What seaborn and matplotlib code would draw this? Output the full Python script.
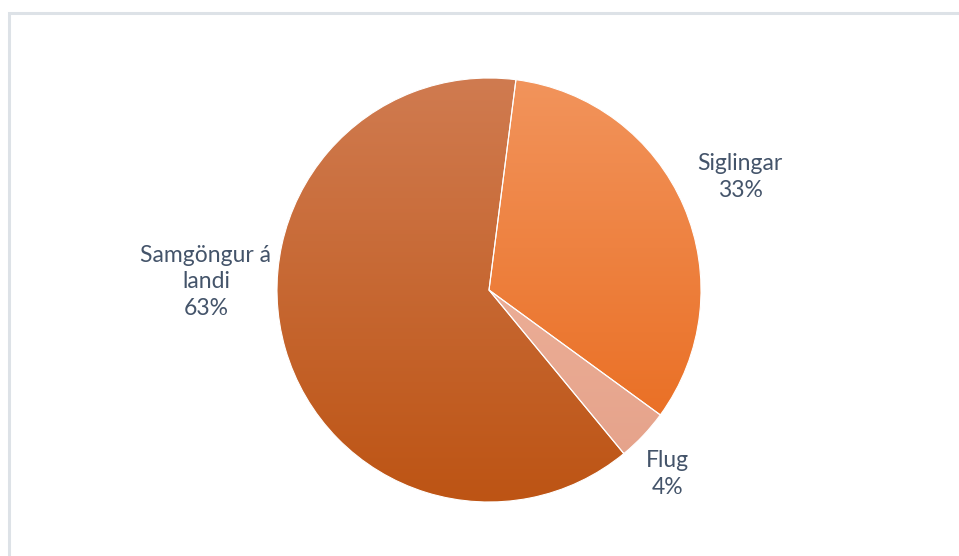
import numpy as np
import matplotlib
matplotlib.use("Agg")
import matplotlib.pyplot as plt
import seaborn as sns
from matplotlib.colors import LinearSegmentedColormap
from matplotlib.patches import Rectangle

# Share of emissions by transport mode (percent)
categories = ["Siglingar", "Flug", "Samgöngur á\nlandi"]
shares = [33, 4, 63]

# Vertical gradient (top colour, bottom colour) for each slice
gradients = [("#F2945C", "#E86718"),
             ("#F3BBA4", "#E4A088"),
             ("#D07B50", "#BD5414")]

sns.set_theme(style="white")
plt.rcParams["font.family"] = ["Lato", "DejaVu Sans"]
text_color = "#44546A"

fig = plt.figure(figsize=(9.59, 5.56), dpi=100)
fig.patch.set_facecolor("white")

# Chart-area outline
fig.patches.append(Rectangle((8.5 / 959, -0.05), 1.1, 1 + 0.05 - 13.5 / 556,
                             transform=fig.transFigure, fill=False,
                             edgecolor="#DDE2E7", linewidth=2.2, zorder=0))

cx, cy, r = 489, 290, 212
ax = fig.add_axes([(cx - r) / 959, (556 - cy - r) / 556, 2 * r / 959, 2 * r / 556])

wedges, _ = ax.pie(shares, startangle=82.7, counterclock=False, radius=1,
                   wedgeprops=dict(edgecolor="white", linewidth=0.8, facecolor="none"))
ax.set_xlim(-1, 1)
ax.set_ylim(-1, 1)
ax.set_aspect("equal")
ax.axis("off")

for w, (top, bottom) in zip(wedges, gradients):
    cmap = LinearSegmentedColormap.from_list("g", [top, bottom])
    grad = np.linspace(0, 1, 256).reshape(-1, 1)
    im = ax.imshow(grad, cmap=cmap, extent=(-1, 1, -1, 1), origin="upper",
                   aspect="auto", zorder=1, interpolation="bicubic")
    im.set_clip_path(w)
    w.set_zorder(2)
ax.set_xlim(-1, 1)
ax.set_ylim(-1, 1)

# Data labels: name and rounded percentage
label_pos = [(1.184, 0.533), (0.840, -0.868), (-1.335, 0.038)]
for name, val, (lx, ly) in zip(categories, shares, label_pos):
    ax.text(lx, ly, f"{name}\n{val}%", ha="center", va="center",
            fontsize=16.5, color=text_color, linespacing=1.3, clip_on=False)

fig.savefig("out.png", dpi=100, facecolor="white")
